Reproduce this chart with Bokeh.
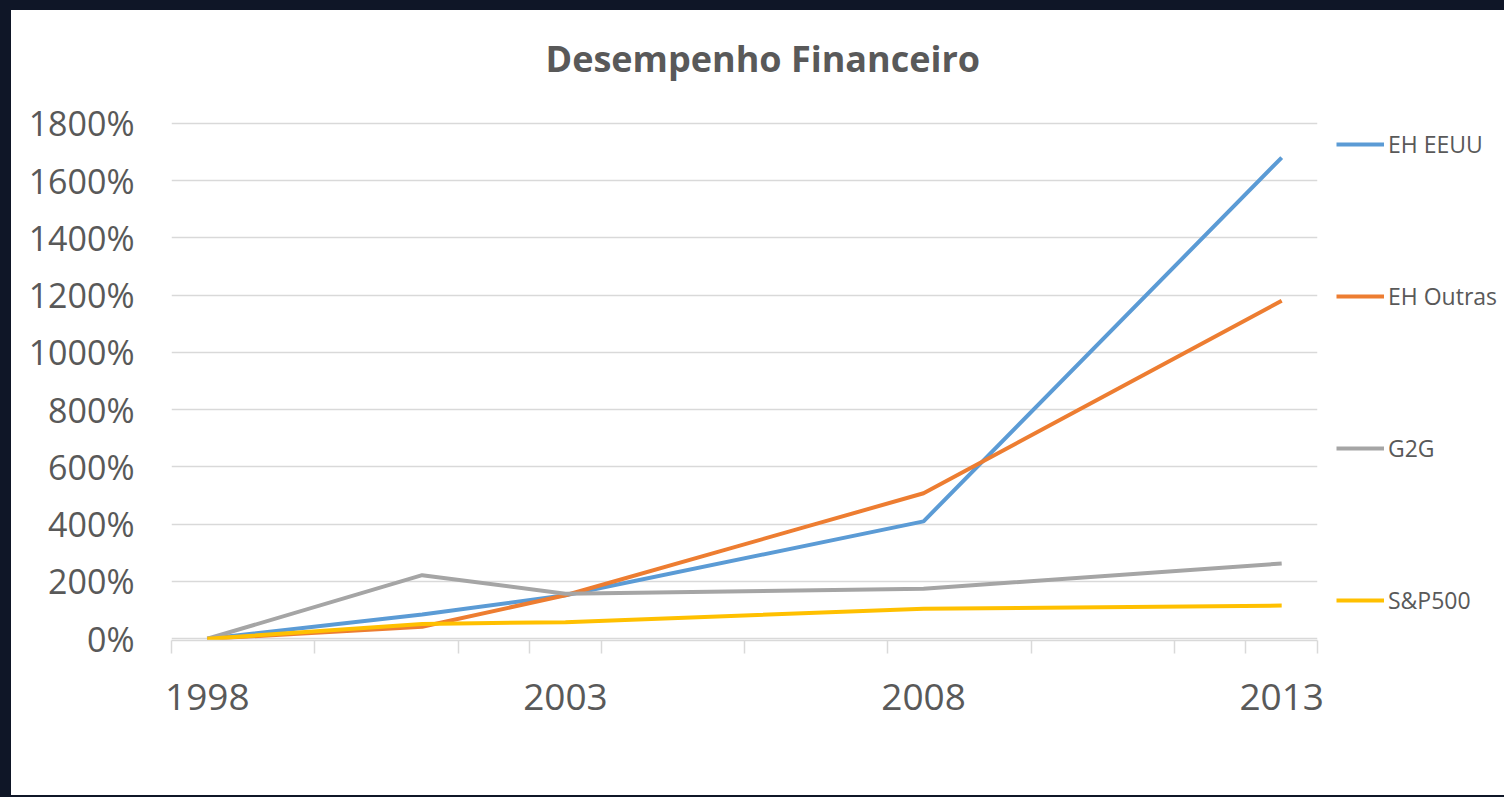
from bokeh.plotting import figure
from bokeh.layouts import row, column
from bokeh.models import Range1d, FixedTicker, Legend, LegendItem, LinearAxis, Title
from bokeh.embed import file_html
from bokeh.resources import INLINE

# ---- data ----
years = [1998, 2001, 2003, 2008, 2013]
eh_eeuu = [0, 85, 152, 410, 1680]
eh_outras = [0, 42, 152, 508, 1180]
g2g = [0, 222, 157, 175, 263]
sp500 = [0, 52, 58, 105, 116]

series_names = ["EH EEUU", "EH Outras", "G2G", "S&P500"]
series_values = [eh_eeuu, eh_outras, g2g, sp500]
series_colors = ["#5B9BD5", "#ED7D31", "#A5A5A5", "#FFC000"]

x_labels = [1998, 2003, 2008, 2013]
y_ticks = list(range(0, 1801, 200))
x_minor = [1997.5, 1999.5, 2001.5, 2002.5, 2003.5, 2005.5, 2007.5,
           2009.5, 2011.5, 2012.5, 2013.5]

FONT = "Open Sans"
TXT = "#595959"
GRID = "#D9D9D9"
BG = "#0f1627"

p = figure(width=1325, height=785, output_backend="svg", toolbar_location=None,
           x_range=Range1d(1997.5, 2013.5), y_range=Range1d(-6, 1806),
           min_border_left=160, min_border_right=19,
           min_border_top=111, min_border_bottom=155,
           title_location=None)

p.outline_line_color = None
p.background_fill_color = "white"
p.border_fill_color = "white"

# invisible spacer axis between title and plot area
spacer = LinearAxis(ticker=FixedTicker(ticks=[2005]), axis_line_color=None,
                    major_tick_line_color=None, minor_tick_line_color=None,
                    major_tick_out=34, major_tick_in=0, minor_tick_out=0,
                    minor_tick_in=0, major_label_standoff=0,
                    major_label_text_font_size="0px",
                    major_label_overrides={2005: ""},
                    axis_label_standoff=0)
p.add_layout(spacer, "above")

# title (added after the spacer, so it sits above it)
title = Title(text="Desempenho Financeiro", text_font=FONT,
              text_font_size="36px", text_font_style="bold",
              text_color=TXT, align="left", offset=374, standoff=10)
p.add_layout(title, "above")

# grid
p.xgrid.grid_line_color = None
p.ygrid.grid_line_color = GRID
p.ygrid.grid_line_width = 1.5
p.yaxis.ticker = FixedTicker(ticks=y_ticks)
p.ygrid.ticker = FixedTicker(ticks=y_ticks)

# y axis
p.yaxis.axis_line_color = None
p.yaxis.major_tick_line_color = None
p.yaxis.minor_tick_line_color = None
p.yaxis.major_label_overrides = {t: f"{t}%" for t in y_ticks}
p.yaxis.major_label_text_font = FONT
p.yaxis.major_label_text_font_size = "34px"
p.yaxis.major_label_text_color = TXT
p.yaxis.major_label_standoff = 31

# x axis (bottom)
xa = p.below[0]
xa.ticker = FixedTicker(ticks=x_labels, minor_ticks=x_minor)
xa.axis_line_color = GRID
xa.axis_line_width = 1.5
xa.major_tick_line_color = None
xa.minor_tick_line_color = GRID
xa.minor_tick_line_width = 1.5
xa.minor_tick_out = 13
xa.minor_tick_in = 0
xa.major_label_text_font = FONT
xa.major_label_text_font_size = "37px"
xa.major_label_text_color = TXT
xa.major_label_standoff = 30

for vals, col in zip(series_values, series_colors):
    p.line(years, vals, line_color=col, line_width=4)

# legend panel (separate figure to the right of the chart)
leg = figure(width=168, height=785, output_backend="svg", toolbar_location=None,
             x_range=Range1d(0, 1), y_range=Range1d(0, 1),
             min_border=0, x_axis_type=None, y_axis_type=None)
leg.outline_line_color = None
leg.grid.grid_line_color = None
leg.background_fill_color = "white"
leg.border_fill_color = "white"

items = []
for name, vals, col in zip(series_names, series_values, series_colors):
    r = leg.line(years, vals, line_color=col, line_width=4, visible=False)
    items.append(LegendItem(label=name, renderers=[r]))

legend = Legend(items=items, location=(0, 24), orientation="vertical",
                spacing=120, glyph_width=48, glyph_height=32, label_height=32,
                label_standoff=4, padding=0, margin=0, click_policy="none",
                border_line_color=None, background_fill_alpha=0,
                label_text_font=FONT, label_text_font_size="23px",
                label_text_color=TXT)
leg.add_layout(legend)

inner = row(p, leg, margin=(10, 0, 2, 11), styles={"background-color": "white"})
page = column(inner, styles={"background-color": BG})

open("out.html", "w").write(file_html(page, INLINE))
